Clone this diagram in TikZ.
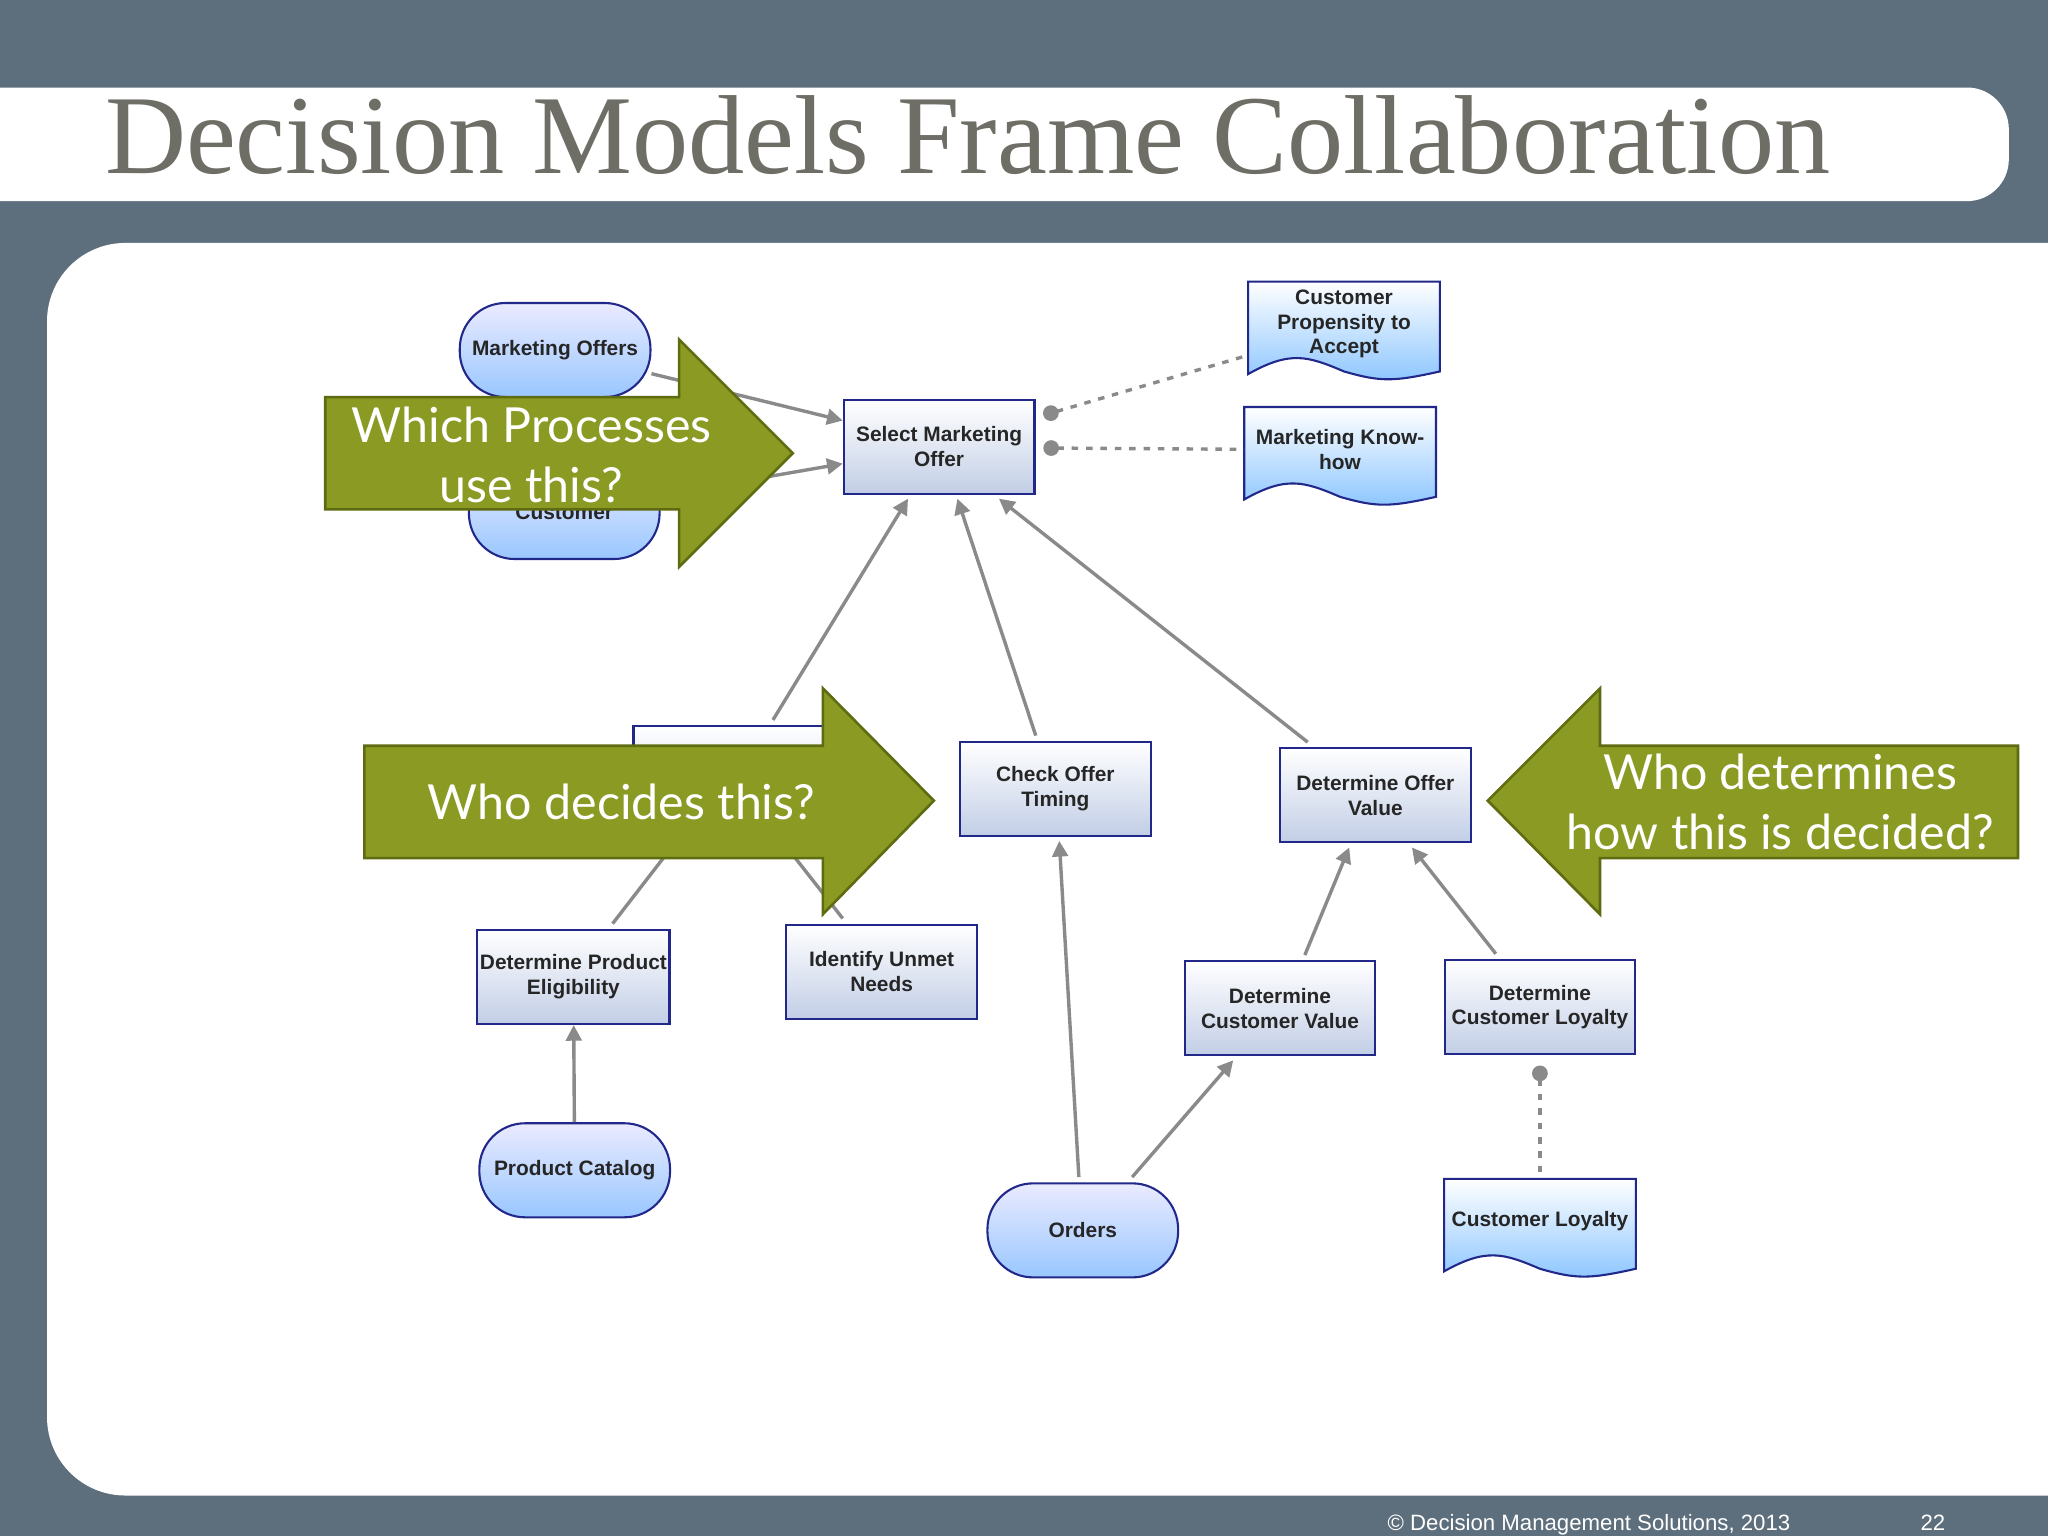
\documentclass[tikz,border=0pt]{standalone}
\usepackage{fontspec}
\setmainfont{Liberation Sans}
\newfontfamily\titlefont{Liberation Serif}
\newfontfamily\callfont{Lato}
\usetikzlibrary{calc,arrows.meta}
\definecolor{slate}{HTML}{5D6E7C}
\definecolor{olive}{HTML}{8A9A23}
\definecolor{olivedk}{HTML}{5F6B10}
\definecolor{bord}{HTML}{22288A}
\definecolor{edge}{HTML}{8A8A8A}
\definecolor{titlec}{HTML}{6E6E66}
\definecolor{boxbot}{HTML}{C2CEE6}
\tikzset{
 box/.style={draw=bord,line width=0.8pt,minimum width=73pt,minimum height=36pt,align=center,font=\bfseries\fontsize{8}{9.5}\selectfont,text=black!85,top color=white,bottom color=boxbot,inner sep=1pt},
 data/.style={box,rounded corners=17.5pt,top color=blue!8!white,bottom color=blue!55!cyan!40!white},
 docnode/.style={minimum width=73pt,minimum height=32pt,align=center,font=\bfseries\fontsize{8}{9.5}\selectfont,text=black!85,inner sep=1pt},
 docfill/.style={draw=bord,line width=0.8pt,top color=white,bottom color=blue!50!cyan!45!white},
 conn/.style={draw=edge,line width=1.3pt,-{Triangle[length=6pt,width=6pt]}},
 dotc/.style={draw=edge,line width=1.3pt,dash pattern=on 2.5pt off 3pt,{Circle[length=6pt]}-},
 callout/.style={fill=olive,draw=olivedk,line width=1pt},
 calltext/.style={text=white,font=\callfont\fontsize{18.5}{23}\selectfont,align=center},
}
\newcommand\docpath[1]{%
 \path[docfill] (#1.north west) -- (#1.north east) -- ($(#1.south east)+(0,-2pt)$)
  .. controls ($(#1.south east)+(-18pt,-6pt)$) and ($(#1.south)+(14pt,-6pt)$) .. ($(#1.south)+(0,-2pt)$)
  .. controls ($(#1.south)+(-14pt,4pt)$) and ($(#1.south west)+(16pt,6pt)$) .. ($(#1.south west)+(0,-3pt)$) -- cycle;}
\begin{document}
\begin{tikzpicture}[x=0.5pt,y=-0.5pt]
\useasboundingbox (0,0) rectangle (1568,1176);
\fill[slate] (0,0) rectangle (1568,1176);
\fill[white,rounded corners=16pt] (-50,67) rectangle (1538,154);
\node[anchor=base west,inner sep=0,text=titlec,font=\titlefont\fontsize{43}{47}\selectfont] (title) at (80,133) {Decision Models Frame Collaboration};
\fill[white,rounded corners=30pt] (36,186) rectangle (1650,1145);
\node[anchor=base west,inner sep=0,text=white,font=\fontsize{8.5}{10}\selectfont] (foot) at (1062,1172) {© Decision Management Solutions, 2013};
\node[anchor=base west,inner sep=0,text=white,font=\fontsize{8.5}{10}\selectfont] (pg) at (1470,1172) {22};
% nodes
\node[data] (mo) at (425,268) {Marketing Offers};
\node[data] (cu) at (432,392) {Customer};
\node[box] (smo) at (719,342) {Select Marketing\\Offer};
\node[docnode] (cpa) at (1029,248) {Customer\\Propensity to\\Accept};
\docpath{cpa}\node[docnode] at (cpa) {Customer\\Propensity to\\Accept};
\node[docnode] (mkh) at (1026,344) {Marketing Know-\\how};
\docpath{mkh}\node[docnode] at (mkh) {Marketing Know-\\how};
\node[box] (hid) at (558,592) {};
\node[box] (cot) at (808,604) {Check Offer\\Timing};
\node[box] (dov) at (1053,609) {Determine Offer\\Value};
\node[box] (dpe) at (439,748) {Determine Product\\Eligibility};
\node[box] (iun) at (675,744) {Identify Unmet\\Needs};
\node[box] (dcv) at (980,772) {Determine\\Customer Value};
\node[box] (dcl) at (1179,771) {Determine\\Customer Loyalty};
\node[data] (pc) at (440,896) {Product Catalog};
\node[data] (ord) at (829,942) {Orders};
\node[docnode] (cl) at (1179,935) {Customer Loyalty};
\docpath{cl}\node[docnode] at (cl) {Customer Loyalty};
% edges
\draw[conn] (mo) -- ($(smo.west)+(0,-20)$);
\draw[conn] (cu) -- ($(smo.west)+(0,13)$);
\draw[dotc] ($(smo.east)+(6,-24)$) -- ($(cpa.west)+(0,24)$);
\draw[dotc] ($(smo.east)+(6,1)$) -- (mkh.west);
\draw[conn] (hid.north east) ++(-40,-4) -- ($(smo.south west)+(50,3)$);
\draw[conn] (cot.north) ++(-15,-4) -- ($(smo.south)+(14,3)$);
\draw[conn] (dov.north west) ++(22,-4) -- ($(smo.south east)+(-28,3)$);
\draw[conn] (dpe.north) ++(30,-4) -- (hid);
\draw[conn] (iun.north west) ++(44,-4) -- (hid);
\draw[conn] (pc) -- (dpe);
\draw[conn] (ord.north) ++(-3,-4) -- ($(cot.south)+(3,3)$);
\draw[conn] (ord.north east) ++(-36,-4) -- ($(dcv.south west)+(38,3)$);
\draw[conn] (dcv.north) ++(19,-4) -- ($(dov.south)+(-20,3)$);
\draw[conn] (dcl.north west) ++(40,-4) -- ($(dov.south)+(28,3)$);
\draw[dotc] ($(dcl.south)+(0,8)$) -- ($(cl.north)+(0,-4)$);
% callouts
\draw[callout] (249,304) -- (520,304) -- (520,260) -- (607,347) -- (520,434) -- (520,390) -- (249,390) -- cycle;
\node[calltext] (c1) at (407,348) {Which Processes\\use this?};
\draw[callout] (279,571) -- (630,571) -- (630,527) -- (715,613) -- (630,700) -- (630,657) -- (279,657) -- cycle;
\node[calltext] (c2) at (476,614) {Who decides this?};
\draw[callout] (1545,571) -- (1225,571) -- (1225,527) -- (1139,613) -- (1225,700) -- (1225,657) -- (1545,657) -- cycle;
\node[calltext] (c3) at (1363,614) {Who determines\\how this is decided?};
\end{tikzpicture}
\end{document}
